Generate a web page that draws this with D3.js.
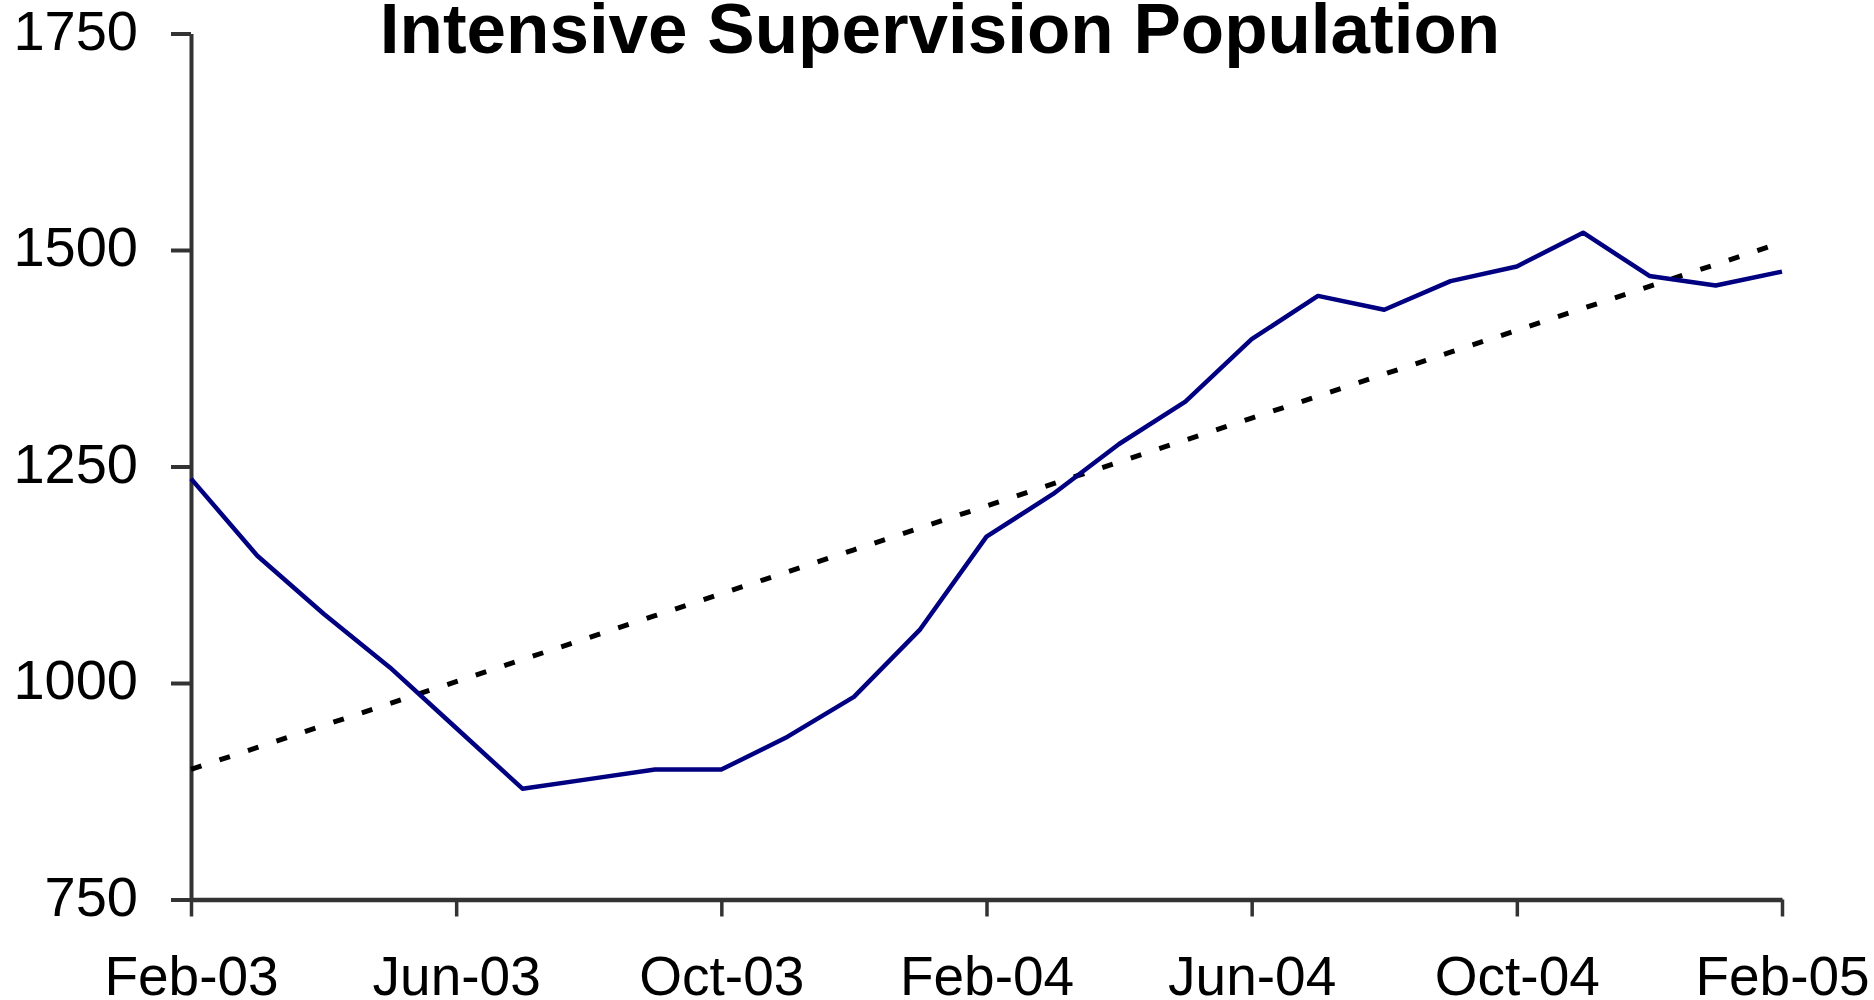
<!DOCTYPE html>
<html>
<head>
<meta charset="utf-8">
<script src="https://cdn.jsdelivr.net/npm/d3@7"></script>
<style>
  body { margin: 0; background: #fff; }
  text { font-family: "Liberation Sans", Arial, sans-serif; }
</style>
</head>
<body>
<div id="chart"></div>
<script>
// monthly data, Feb-03 to Feb-05
const MONTHS = [
  "2003-02","2003-03","2003-04","2003-05","2003-06","2003-07","2003-08","2003-09",
  "2003-10","2003-11","2003-12","2004-01","2004-02","2004-03","2004-04","2004-05",
  "2004-06","2004-07","2004-08","2004-09","2004-10","2004-11","2004-12","2005-01","2005-02"
];
const POPULATION = [
  1236, 1147, 1080, 1018, 948, 878, 889, 900,
  900, 938, 984, 1062, 1169, 1218, 1276, 1325,
  1397, 1447, 1431, 1464, 1481, 1520, 1470, 1459, 1475
];
const X_TICKS = ["2003-02","2003-06","2003-10","2004-02","2004-06","2004-10","2005-02"];
const Y_TICKS = [750, 1000, 1250, 1500, 1750];
const TITLE = "Intensive Supervision Population";

let w = 1874;
let h = 1000;

const parse = d3.timeParse("%Y-%m");
const fmt = d3.timeFormat("%b-%y");
const data = MONTHS.map((m, i) => ({ month: m, idx: i, value: POPULATION[i] }));

// least squares trend, like the excel linear trendline
function trend(arr) {
  let xs = arr.map(d => d.idx);
  let ys = arr.map(d => d.value);
  let n = xs.length;
  let mx = d3.mean(xs), my = d3.mean(ys);
  let num = 0, den = 0;
  for (let i = 0; i < n; i++) {
    num += (xs[i] - mx) * (ys[i] - my);
    den += (xs[i] - mx) * (xs[i] - mx);
  }
  let slope = num / den;
  return arr.map(d => ({ month: d.month, value: my + slope * (d.idx - mx) }));
}

let svg = d3.select("#chart")
  .append("svg")
  .attr("width", w)
  .attr("height", h);

// months evenly spaced, like excel's date axis with month base unit
let x = d3.scalePoint()
  .domain(MONTHS)
  .range([191, 1782]);

let y = d3.scaleLinear()
  .domain([750, 1750])
  .range([899.5, 33.5]);

// title
svg.append("text")
  .attr("x", 940)
  .attr("y", 53)
  .attr("text-anchor", "middle")
  .attr("font-size", 71)
  .attr("font-weight", "bold")
  .text(TITLE);

// y axis
let yAxis = svg.append("g")
  .attr("transform", "translate(191,0)")
  .call(d3.axisLeft(y).tickValues(Y_TICKS).tickFormat(d3.format("d"))
    .tickSize(20).tickSizeOuter(0).tickPadding(33));
yAxis.select(".domain").attr("stroke", "#333").attr("stroke-width", 4);
yAxis.selectAll(".tick line").attr("stroke", "#333").attr("stroke-width", 4);
yAxis.selectAll(".tick text")
  .attr("font-size", 56)
  .attr("fill", "#000")
  .attr("font-family", "Liberation Sans, Arial, sans-serif")
  .attr("dy", "0.28em");

// x axis
let xAxis = svg.append("g")
  .attr("transform", "translate(0,899.5)")
  .call(d3.axisBottom(x).tickValues(X_TICKS).tickFormat(m => fmt(parse(m)))
    .tickSize(17).tickSizeOuter(0).tickPadding(39));
xAxis.select(".domain").attr("stroke", "#333").attr("stroke-width", 4.5);
xAxis.selectAll(".tick line").attr("stroke", "#333").attr("stroke-width", 3.5);
xAxis.selectAll(".tick text")
  .attr("font-size", 55)
  .attr("fill", "#000")
  .attr("font-family", "Liberation Sans, Arial, sans-serif");

let line = d3.line()
  .x(d => x(d.month))
  .y(d => y(d.value));

// trend line (dotted)
svg.append("path")
  .datum(trend(data))
  .attr("d", line)
  .attr("fill", "none")
  .attr("stroke", "#000")
  .attr("stroke-width", 5)
  .attr("stroke-dasharray", "11 19");

// population line
svg.append("path")
  .datum(data)
  .attr("d", line)
  .attr("fill", "none")
  .attr("stroke", "#000080")
  .attr("stroke-width", 4.5)
  .attr("stroke-linejoin", "round");
</script>
</body>
</html>
